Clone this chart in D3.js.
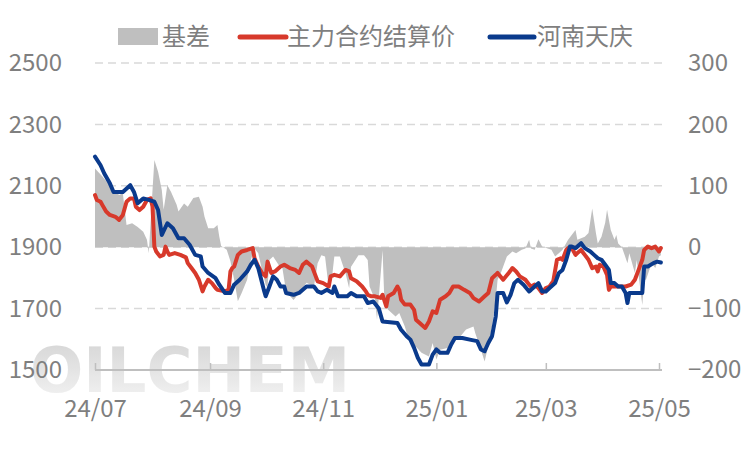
<!DOCTYPE html>
<html>
<head>
<meta charset="utf-8">
<script src="https://cdn.jsdelivr.net/npm/d3@7"></script>
<style>
  body { margin: 0; background: #fff; }
  svg { display: block; font-family: "Noto Sans CJK SC", "Microsoft YaHei", sans-serif; }
</style>
</head>
<body>
<div class="container"></div>
<script>
// series names + colours
const seriesNames = ["基差", "主力合约结算价", "河南天庆"];
const seriesColors = ["#bfbfbf", "#d7392b", "#0a3a8c"];

// tick values
const leftTicks = [1500, 1700, 1900, 2100, 2300, 2500];
const rightTicks = [-200, -100, 0, 100, 200, 300];
const monthTicks = ["2024-07-01", "2024-09-01", "2024-11-01", "2025-01-01", "2025-03-01", "2025-05-01"];

// 基差 (right axis)
const basis = [
  ["2024-07-01",128],["2024-07-05",115],["2024-07-08",104],["2024-07-11",93],["2024-07-14",85],["2024-07-16",88],
  ["2024-07-18",36],["2024-07-21",39],["2024-07-24",33],["2024-07-27",25],["2024-07-29",12],["2024-07-30",-10],
  ["2024-08-01",93],["2024-08-02",142],["2024-08-04",123],["2024-08-06",93],["2024-08-07",61],["2024-08-09",101],
  ["2024-08-11",90],["2024-08-14",69],["2024-08-15",58],["2024-08-18",71],["2024-08-20",66],["2024-08-23",80],
  ["2024-08-26",82],["2024-08-28",66],["2024-08-29",50],["2024-08-31",31],["2024-09-03",31],["2024-09-05",36],
  ["2024-09-06",17],["2024-09-07",2],["2024-09-10",-4],["2024-09-12",-23],["2024-09-14",-53],["2024-09-16",-88],
  ["2024-09-18",-75],["2024-09-21",-53],["2024-09-23",-21],["2024-09-25",-2],["2024-09-27",-10],["2024-09-29",-37],
  ["2024-10-01",-61],["2024-10-02",-66],["2024-10-03",-21],["2024-10-05",-15],["2024-10-08",-29],["2024-10-10",-34],
  ["2024-10-12",-72],["2024-10-16",-86],["2024-10-19",-75],["2024-10-23",-58],["2024-10-27",-64],["2024-10-29",-26],
  ["2024-10-31",-13],["2024-11-02",-15],["2024-11-04",-67],["2024-11-06",-42],["2024-11-07",-15],["2024-11-10",-15],
  ["2024-11-13",-42],["2024-11-15",-67],["2024-11-16",-32],["2024-11-20",-13],["2024-11-23",-13],["2024-11-25",-21],
  ["2024-11-26",-64],["2024-11-29",-86],["2024-11-30",-118],["2024-12-03",-5],["2024-12-04",-90],["2024-12-06",-102],
  ["2024-12-10",-113],["2024-12-12",-107],["2024-12-15",-129],["2024-12-17",-150],["2024-12-20",-159],["2024-12-24",-172],
  ["2024-12-28",-178],["2024-12-30",-156],["2025-01-01",-183],["2025-01-03",-167],["2025-01-07",-164],["2025-01-10",-150],
  ["2025-01-14",-145],["2025-01-17",-134],["2025-01-21",-129],["2025-01-22",-140],["2025-01-25",-167],["2025-01-27",-186],
  ["2025-01-29",-161],["2025-01-31",-129],["2025-02-02",-86],["2025-02-03",-53],["2025-02-05",-40],["2025-02-08",-15],
  ["2025-02-11",-7],["2025-02-13",-10],["2025-02-16",-4],["2025-02-18",-2],["2025-02-20",12],["2025-02-21",-2],
  ["2025-02-23",-4],["2025-02-25",13],["2025-02-27",1],["2025-03-02",-2],["2025-03-04",-4],["2025-03-06",-15],
  ["2025-03-08",-10],["2025-03-10",-4],["2025-03-11",1],["2025-03-13",12],["2025-03-17",28],["2025-03-18",12],
  ["2025-03-22",17],["2025-03-24",23],["2025-03-26",63],["2025-03-28",23],["2025-03-29",6],["2025-03-31",17],
  ["2025-04-02",40],["2025-04-03",61],["2025-04-05",28],["2025-04-07",12],["2025-04-08",20],["2025-04-09",6],
  ["2025-04-11",0],["2025-04-14",-26],["2025-04-15",-10],["2025-04-18",-42],["2025-04-19",-21],["2025-04-22",-94],
  ["2025-04-23",-53],["2025-04-24",-53],["2025-04-27",-26],["2025-04-29",-34],["2025-05-01",-15],["2025-05-02",-13]
];

// 主力合约结算价 (left axis)
const futures = [
  ["2024-07-01",2070],["2024-07-02",2054],["2024-07-04",2048],["2024-07-05",2037],["2024-07-07",2016],["2024-07-09",2005],
  ["2024-07-12",1999],["2024-07-14",1989],["2024-07-16",2005],["2024-07-18",2048],["2024-07-20",2059],["2024-07-22",2059],
  ["2024-07-23",2032],["2024-07-25",2021],["2024-07-27",2032],["2024-07-29",2054],["2024-07-31",2059],["2024-08-01",2032],
  ["2024-08-02",1902],["2024-08-03",1886],["2024-08-05",1870],["2024-08-07",1875],["2024-08-08",1902],["2024-08-09",1886],
  ["2024-08-10",1875],["2024-08-13",1881],["2024-08-16",1875],["2024-08-19",1867],["2024-08-20",1848],["2024-08-22",1832],
  ["2024-08-24",1816],["2024-08-26",1794],["2024-08-28",1756],["2024-08-29",1772],["2024-08-31",1794],["2024-09-02",1783],
  ["2024-09-04",1767],["2024-09-05",1761],["2024-09-09",1756],["2024-09-11",1761],["2024-09-12",1821],["2024-09-13",1832],
  ["2024-09-14",1837],["2024-09-16",1875],["2024-09-18",1886],["2024-09-21",1891],["2024-09-24",1897],["2024-09-25",1864],
  ["2024-09-27",1837],["2024-09-29",1816],["2024-10-01",1805],["2024-10-02",1853],["2024-10-04",1816],["2024-10-06",1821],
  ["2024-10-09",1837],["2024-10-11",1843],["2024-10-14",1832],["2024-10-17",1826],["2024-10-19",1816],["2024-10-21",1843],
  ["2024-10-23",1853],["2024-10-26",1837],["2024-10-28",1805],["2024-10-29",1789],["2024-11-01",1783],["2024-11-04",1772],
  ["2024-11-05",1805],["2024-11-07",1810],["2024-11-10",1805],["2024-11-13",1826],["2024-11-15",1821],["2024-11-16",1799],
  ["2024-11-19",1789],["2024-11-22",1772],["2024-11-24",1756],["2024-11-25",1745],["2024-11-27",1740],["2024-11-29",1740],
  ["2024-12-02",1735],["2024-12-03",1745],["2024-12-05",1707],["2024-12-06",1740],["2024-12-09",1751],["2024-12-11",1772],
  ["2024-12-12",1761],["2024-12-13",1729],["2024-12-15",1713],["2024-12-18",1713],["2024-12-20",1696],["2024-12-21",1664],
  ["2024-12-23",1653],["2024-12-26",1637],["2024-12-28",1658],["2024-12-30",1691],["2025-01-01",1686],["2025-01-03",1729],
  ["2025-01-06",1740],["2025-01-08",1751],["2025-01-10",1772],["2025-01-13",1772],["2025-01-16",1761],["2025-01-19",1751],
  ["2025-01-21",1734],["2025-01-24",1723],["2025-01-27",1740],["2025-01-29",1751],["2025-01-31",1799],["2025-02-02",1810],
  ["2025-02-03",1816],["2025-02-06",1794],["2025-02-09",1816],["2025-02-11",1832],["2025-02-13",1821],["2025-02-15",1805],
  ["2025-02-18",1794],["2025-02-20",1778],["2025-02-21",1772],["2025-02-23",1778],["2025-02-25",1767],["2025-02-27",1751],
  ["2025-03-01",1767],["2025-03-03",1772],["2025-03-05",1789],["2025-03-07",1859],["2025-03-09",1864],["2025-03-10",1859],
  ["2025-03-12",1891],["2025-03-13",1897],["2025-03-15",1897],["2025-03-17",1875],["2025-03-18",1881],["2025-03-20",1891],
  ["2025-03-22",1875],["2025-03-24",1859],["2025-03-26",1832],["2025-03-28",1837],["2025-03-29",1821],["2025-03-30",1843],
  ["2025-04-01",1837],["2025-04-03",1810],["2025-04-04",1761],["2025-04-05",1772],["2025-04-09",1772],["2025-04-13",1772],
  ["2025-04-16",1778],["2025-04-18",1794],["2025-04-20",1826],["2025-04-22",1859],["2025-04-23",1891],["2025-04-25",1902],
  ["2025-04-27",1897],["2025-04-29",1902],["2025-05-01",1886],["2025-05-02",1897]
];

// 河南天庆 (left axis)
const spot = [
  ["2024-07-01",2195],["2024-07-04",2167],["2024-07-06",2140],["2024-07-09",2108],["2024-07-11",2080],["2024-07-16",2080],
  ["2024-07-20",2102],["2024-07-22",2080],["2024-07-24",2043],["2024-07-27",2059],["2024-07-30",2054],["2024-08-02",2048],
  ["2024-08-04",2021],["2024-08-06",1940],["2024-08-09",1978],["2024-08-12",1962],["2024-08-15",1929],["2024-08-18",1929],
  ["2024-08-21",1908],["2024-08-24",1875],["2024-08-27",1870],["2024-08-28",1837],["2024-08-31",1816],["2024-09-04",1799],
  ["2024-09-06",1778],["2024-09-09",1751],["2024-09-12",1751],["2024-09-14",1778],["2024-09-17",1794],["2024-09-21",1821],
  ["2024-09-23",1843],["2024-09-25",1859],["2024-09-27",1832],["2024-09-30",1761],["2024-10-01",1740],["2024-10-03",1772],
  ["2024-10-05",1805],["2024-10-07",1794],["2024-10-09",1772],["2024-10-11",1772],["2024-10-12",1751],["2024-10-16",1745],
  ["2024-10-19",1751],["2024-10-23",1772],["2024-10-27",1772],["2024-10-29",1756],["2024-10-31",1751],["2024-11-03",1761],
  ["2024-11-06",1751],["2024-11-07",1772],["2024-11-09",1740],["2024-11-14",1740],["2024-11-16",1751],["2024-11-19",1740],
  ["2024-11-23",1740],["2024-11-25",1718],["2024-11-28",1723],["2024-12-01",1700],["2024-12-03",1658],["2024-12-11",1653],
  ["2024-12-13",1631],["2024-12-16",1610],["2024-12-18",1599],["2024-12-20",1572],["2024-12-22",1540],["2024-12-24",1518],
  ["2024-12-28",1518],["2024-12-30",1550],["2025-01-01",1567],["2025-01-03",1556],["2025-01-07",1556],["2025-01-09",1583],
  ["2025-01-11",1604],["2025-01-15",1604],["2025-01-19",1599],["2025-01-23",1594],["2025-01-25",1567],["2025-01-27",1561],
  ["2025-01-29",1588],["2025-01-31",1610],["2025-02-02",1675],["2025-02-03",1751],["2025-02-06",1751],["2025-02-08",1720],
  ["2025-02-10",1745],["2025-02-12",1783],["2025-02-14",1794],["2025-02-17",1778],["2025-02-20",1756],["2025-02-21",1761],
  ["2025-02-23",1772],["2025-02-25",1783],["2025-02-27",1756],["2025-03-01",1756],["2025-03-03",1767],["2025-03-06",1783],
  ["2025-03-08",1816],["2025-03-10",1826],["2025-03-12",1859],["2025-03-14",1902],["2025-03-15",1902],["2025-03-17",1897],
  ["2025-03-18",1902],["2025-03-20",1913],["2025-03-22",1897],["2025-03-25",1886],["2025-03-27",1875],["2025-03-29",1864],
  ["2025-03-31",1859],["2025-04-02",1843],["2025-04-04",1826],["2025-04-05",1783],["2025-04-07",1783],["2025-04-09",1772],
  ["2025-04-11",1772],["2025-04-13",1751],["2025-04-14",1718],["2025-04-15",1751],["2025-04-21",1751],["2025-04-22",1751],
  ["2025-04-23",1837],["2025-04-25",1837],["2025-04-28",1848],["2025-04-30",1853],["2025-05-02",1850]
];

const width = 744, height = 451;
const plot = {left: 95, right: 662, top: 63, bottom: 370};

const parse = d3.timeParse("%Y-%m-%d");

const svg = d3.select(".container").append("svg")
  .attr("width", width)
  .attr("height", height);

const x = d3.scaleTime()
  .domain([parse("2024-07-01"), parse("2025-05-01")])
  .range([plot.left, 659]);

const yLeft = d3.scaleLinear().domain([1500, 2500]).range([plot.bottom, plot.top]);
const yRight = d3.scaleLinear().domain([-200, 300]).range([plot.bottom, plot.top]);

// watermark (sits under everything)
const grad = svg.append("defs").append("linearGradient")
  .attr("id", "wm").attr("x1", 0).attr("y1", 0).attr("x2", 0).attr("y2", 1);
grad.append("stop").attr("offset", "0%").attr("stop-color", "#cccccc");
grad.append("stop").attr("offset", "100%").attr("stop-color", "#f4f4f4");

svg.append("text")
  .attr("x", 30)
  .attr("y", 392)
  .attr("textLength", 320)
  .attr("lengthAdjust", "spacingAndGlyphs")
  .style("font-family", "'DejaVu Sans', sans-serif")
  .style("font-weight", "bold")
  .style("font-size", "62px")
  .attr("fill", "url(#wm)")
  .attr("opacity", 0.85)
  .text("OILCHEM");

// gridlines
svg.append("g")
  .selectAll("line")
  .data(leftTicks.slice(1))
  .join("line")
  .attr("x1", plot.left)
  .attr("x2", plot.right)
  .attr("y1", d => yLeft(d))
  .attr("y2", d => yLeft(d))
  .attr("stroke", "#d9d9d9")
  .attr("stroke-width", 1.5)
  .attr("stroke-dasharray", "8,5");

// basis area
const area = d3.area()
  .x(d => x(parse(d[0])))
  .y0(yRight(0))
  .y1(d => yRight(d[1]));

svg.append("path")
  .datum(basis)
  .attr("d", area)
  .attr("fill", seriesColors[0]);

// price lines
const line = d3.line()
  .x(d => x(parse(d[0])))
  .y(d => yLeft(d[1]));

[futures, spot].forEach((s, i) => {
  svg.append("path")
    .datum(s)
    .attr("d", line)
    .attr("fill", "none")
    .attr("stroke", seriesColors[i + 1])
    .attr("stroke-width", 4)
    .attr("stroke-linejoin", "round")
    .attr("stroke-linecap", "round");
});

// x axis
const xAxis = d3.axisBottom(x)
  .tickValues(monthTicks.map(parse))
  .tickFormat(d3.timeFormat("%y/%m"))
  .tickSize(-7)
  .tickSizeOuter(0)
  .tickPadding(30);

const xAxisGroup = svg.append("g")
  .attr("transform", `translate(0, ${plot.bottom})`)
  .call(xAxis);
xAxisGroup.select(".domain").remove();
xAxisGroup.append("line")
  .attr("x1", plot.left).attr("x2", plot.right)
  .attr("stroke", "#bfbfbf").attr("stroke-width", 2);
xAxisGroup.selectAll(".tick line").attr("stroke", "#bfbfbf").attr("stroke-width", 1.5);
xAxisGroup.selectAll(".tick text")
  .attr("fill", "#7f7f7f")
  .style("font-size", "24px")
  .style("font-family", "'Noto Sans CJK SC', sans-serif");

// y axes
const yLeftGroup = svg.append("g")
  .attr("transform", `translate(${plot.left}, 0)`)
  .call(d3.axisLeft(yLeft).tickValues(leftTicks).tickFormat(d3.format("d")).tickSize(0).tickPadding(33));
const yRightGroup = svg.append("g")
  .attr("transform", `translate(${plot.right}, 0)`)
  .call(d3.axisRight(yRight).tickValues(rightTicks).tickFormat(d3.format("d")).tickSize(0).tickPadding(26));

[yLeftGroup, yRightGroup].forEach(g => {
  g.select(".domain").remove();
  g.selectAll("text")
    .attr("fill", "#7f7f7f")
    .style("font-size", "24px")
    .style("font-family", "'Noto Sans CJK SC', sans-serif");
});

// legend
const legend = svg.append("g").attr("transform", "translate(0, 37)");
legend.append("rect")
  .attr("x", 118).attr("y", -9).attr("width", 40).attr("height", 17)
  .attr("fill", seriesColors[0]);

const legendX = [[162], [240, 286, 287], [490, 534, 537]];
legend.append("text").attr("x", 162).attr("y", 0).attr("dy", "0.35em").text(seriesNames[0]);

[1, 2].forEach(i => {
  legend.append("line")
    .attr("x1", legendX[i][0]).attr("x2", legendX[i][1])
    .attr("stroke", seriesColors[i])
    .attr("stroke-width", 5)
    .attr("stroke-linecap", "round");
  legend.append("text")
    .attr("x", legendX[i][2]).attr("y", 0).attr("dy", "0.35em")
    .text(seriesNames[i]);
});

legend.selectAll("text")
  .attr("fill", "#7f7f7f")
  .style("font-size", "24px");
</script>
</body>
</html>
